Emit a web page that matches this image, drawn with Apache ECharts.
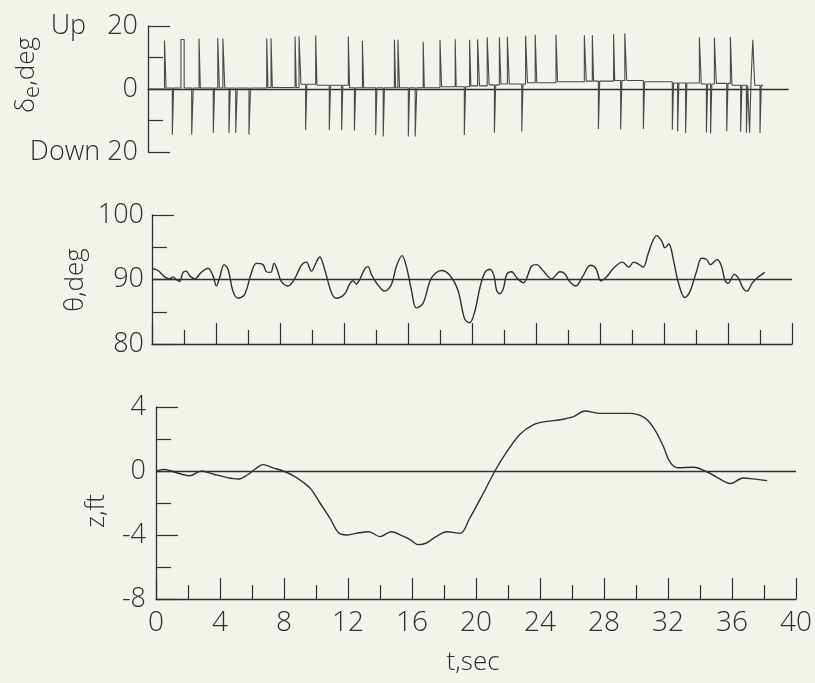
<!DOCTYPE html>
<html>
<head>
<meta charset="utf-8">
<title>elevator, pitch attitude and altitude time history</title>
<script src="https://cdn.jsdelivr.net/npm/echarts@6/dist/echarts.min.js"></script>
<style>
  html, body { margin: 0; padding: 0; background: #f3f2eb; }
  #chart { width: 815px; height: 683px; }
</style>
</head>
<body>
<div id="chart"></div>
<script>
// elevator pulses (deg): start time, width (sec), peak value
const upT = [1.03, 2.06, 3.19, 4.36, 4.68, 7.42, 7.69, 9.19, 9.44, 10.48, 12.52, 13.4, 15.4, 15.62,
  17.2, 18.25, 19.2, 20.1, 20.6, 21.2, 21.96, 22.46, 23.6, 24.2, 25.5, 27.27, 27.77, 29.1, 29.8,
  34.46, 35.4, 36.4, 37.8]
const upW = [0.1, 0.2, 0.08, 0.1, 0.12, 0.08, 0.08, 0.08, 0.12, 0.08, 0.08, 0.08, 0.08, 0.1,
  0.07, 0.1, 0.06, 0.08, 0.12, 0.12, 0.1, 0.12, 0.12, 0.1, 0.1, 0.12, 0.08, 0.07, 0.12,
  0.12, 0.12, 0.1, 0.12]
const upPeak = [15.4, 15.7, 16, 16.2, 16, 16, 16, 16.7, 16.7, 17, 16.7, 15.3, 15.6, 15.6,
  15, 15.6, 15.8, 15.6, 15.8, 16.4, 16.4, 16.6, 16.9, 17.2, 17.2, 17.1, 17.1, 17.4, 17.7,
  16.4, 16.3, 16.5, 15.6]
const downT = [1.52, 2.73, 4.08, 5.06, 5.48, 6.31, 9.85, 11.33, 12.1, 12.9, 14.23, 14.7, 16.27, 16.7,
  19.77, 21.65, 23.36, 28.15, 29.54, 30.96, 32.77, 33.1, 33.6, 34.9, 35.16, 36.17, 37.04, 37.4,
  37.6, 38.25]
const downW = [0.08, 0.1, 0.08, 0.08, 0.1, 0.1, 0.08, 0.08, 0.08, 0.08, 0.08, 0.08, 0.08, 0.1,
  0.08, 0.08, 0.08, 0.08, 0.08, 0.08, 0.08, 0.08, 0.08, 0.08, 0.08, 0.08, 0.08, 0.08,
  0.08, 0.08]
const downPeak = [-14.5, -14.5, -14, -14, -14, -14.5, -13, -13, -13, -13.2, -14.6, -15.1, -15.1, -15.1,
  -14.6, -13.9, -13.5, -12.7, -12.8, -12.7, -12.9, -13.4, -14, -13.8, -14.1, -13.3, -13.6, -13.9,
  -13.9, -14]
// trim level between pulses (deg)
const trimT = [0, 1.05, 7.45, 9.45, 10.5, 12.55, 15.65, 18.3, 20.15, 21.3, 22.0, 23.7, 25.55, 27.3,
  29.12, 30.97, 32.8, 34.5, 35.45, 36.45]
const trimV = [0, 0.3, 0.5, 1.5, 1.2, 0.4, 0.4, 0.7, 1.0, 1.3, 1.6, 2.0, 2.3, 2.5,
  2.7, 2.3, 1.9, 1.6, 1.8, 1.2]
const elevEnd = 38.45

// pitch attitude, deg
const thetaT = [0, 0.375, 0.79, 1.1, 1.31, 1.52, 1.73, 1.94, 2.15, 2.35, 2.67, 3.08, 3.5, 3.81, 4.02,
  4.23, 4.5, 4.75, 5.06, 5.375, 5.79, 6.21, 6.52, 6.94, 7.15, 7.42, 7.625, 7.83, 8.08, 8.5,
  8.92, 9.33, 9.65, 9.96, 10.27, 10.48, 10.79, 11.21, 11.52, 12.04, 12.35, 12.56, 12.77, 12.98, 13.29,
  13.5, 13.71, 14.02, 14.54, 14.96, 15.27, 15.625, 15.9, 16.21, 16.52, 16.94, 17.46, 18.08, 18.6, 19.125,
  19.54, 19.85, 20.19, 20.5, 20.81, 21.125, 21.375, 21.54, 21.75, 21.96, 22.17, 22.48, 22.79, 23.21, 23.73,
  24.04, 24.46, 24.98, 25.5, 25.8, 26.1, 26.5, 26.9, 27.4, 27.75, 28.05, 28.4, 28.9, 29.4, 29.8,
  30.1, 30.4, 30.7, 31.0, 31.3, 31.54, 31.85, 32.06, 32.3, 32.6, 32.9, 33.3, 33.6, 34.04, 34.35,
  34.66, 34.9, 35.33, 35.6, 35.8, 36.0, 36.4, 36.65, 36.96, 37.2, 37.5, 37.8, 38.3]
const thetaV = [91.7, 91.4, 90.4, 90.1, 90.4, 90.0, 89.7, 91.1, 91.3, 90.6, 90.1, 91.1, 91.75, 90.6, 89.0,
  90.3, 92.3, 91.6, 88.2, 87.1, 87.7, 91.0, 92.5, 92.3, 91.2, 91.1, 92.5, 91.5, 89.7, 89.0,
  90.15, 92.2, 92.7, 91.3, 92.7, 93.5, 91.6, 88.0, 87.1, 87.75, 89.3, 89.8, 89.3, 90.0, 91.6,
  92.0, 90.8, 89.5, 88.2, 89.2, 92.0, 93.7, 92.0, 88.4, 85.6, 86.3, 90.2, 91.4, 90.7, 88.3,
  83.9, 83.3, 85.2, 88.8, 91.1, 91.6, 90.6, 88.3, 87.8, 88.6, 90.8, 91.2, 90.3, 89.5, 92.1,
  92.3, 91.3, 90.1, 91.2, 90.9, 89.7, 89.0, 90.4, 92.2, 91.7, 89.8, 90.4, 91.9, 92.7, 91.9,
  92.7, 92.4, 91.9, 93.9, 96.0, 96.8, 96.0, 94.9, 95.5, 92.9, 89.5, 87.2, 88.0, 91.3, 93.3,
  93.1, 92.3, 93.1, 92.0, 90.0, 89.4, 90.8, 90.2, 88.6, 88.2, 89.4, 90.2, 91.1]

// altitude deviation, ft
const zT = [0, 0.5, 0.94, 1.6, 2.1, 2.85, 3.6, 4.4, 5.15, 5.7, 6.3, 6.7, 7.3, 7.95, 8.6, 9.2, 9.7,
  10.25, 10.9, 11.4, 11.9, 12.5, 13.3, 14.0, 14.7, 15.5, 15.9, 16.4, 16.9, 17.5, 18.2, 19.0, 19.6,
  20.5, 21.2, 21.9, 22.75, 23.6, 24.4, 25.25, 26.1, 26.8, 27.75, 28.8, 29.6, 30.5, 31.1, 31.7,
  32.1, 32.6, 33.6, 34.4, 35.0, 35.9, 36.7, 37.3, 38.2]
const zV = [0, 0.1, 0, -0.2, -0.3, 0, -0.2, -0.4, -0.5, -0.25, 0.2, 0.4, 0.2, 0, -0.3, -0.7, -1.15,
  -2.0, -3.0, -3.85, -4.0, -3.9, -3.8, -4.1, -3.8, -4.1, -4.3, -4.6, -4.5, -4.1, -3.8, -3.9, -2.97,
  -1.31, 0.03, 1.16, 2.3, 2.9, 3.1, 3.2, 3.4, 3.75, 3.6, 3.6, 3.6, 3.35, 2.7, 1.56,
  0.6, 0.2, 0.23, -0.03, -0.36, -0.78, -0.44, -0.49, -0.6]

const timeTicks = [0, 4, 8, 12, 16, 20, 24, 28, 32, 36, 40]

const ink = '#2f2f2f'
const font = 'Open Sans'
const weight = 300

// trim level at time t
function trimAt(t) {
  let v = trimV[0]
  for (let i = 0; i < trimT.length; i++) {
    if (trimT[i] <= t) v = trimV[i]
  }
  return v
}

// build the elevator trace as a stepped line from the pulse lists
let pulses = []
upT.forEach((t, i) => pulses.push([t, upW[i], upPeak[i]]))
downT.forEach((t, i) => pulses.push([t, downW[i], downPeak[i]]))
pulses.sort((a, b) => a[0] - b[0])
let elevData = [[0, trimAt(0)]]
pulses.forEach(p => {
  let t0 = p[0], t1 = p[0] + p[1]
  elevData.push([t0, trimAt(t0)], [t0, p[2]], [t1, p[2]], [t1, trimAt(t1)])
})
elevData.push([elevEnd, trimAt(elevEnd)])

const thetaData = thetaT.map((t, i) => [t, thetaV[i]])
const zData = zT.map((t, i) => [t, zV[i]])

let chart = echarts.init(document.getElementById('chart'))

let tickStyle = { color: ink, width: 1.2 }
let labelStyle = { fontSize: 27, color: ink, fontFamily: font, fontWeight: weight }

let option = {
  backgroundColor: '#f3f2eb',
  animation: false,
  textStyle: { fontFamily: font, color: ink },
  grid: [
    { left: 148, top: 26, width: 640, height: 126 },
    { left: 152, top: 215, width: 640, height: 129 },
    { left: 156, top: 407, width: 640, height: 192 },
  ],
  xAxis: [
    {
      type: 'value', gridIndex: 0, min: 0, max: 40,
      axisLine: { show: true, onZero: true, lineStyle: { color: ink, width: 1.3 } },
      axisTick: { show: false }, axisLabel: { show: false }, splitLine: { show: false },
    },
    {
      type: 'value', gridIndex: 1, min: 0, max: 40, interval: 4,
      axisLine: { show: true, onZero: false, lineStyle: { color: ink, width: 1.3 } },
      axisTick: { show: true, inside: true, length: 21, lineStyle: tickStyle },
      minorTick: { show: true, splitNumber: 2, length: 14, lineStyle: tickStyle },
      axisLabel: { show: false }, splitLine: { show: false },
    },
    {
      type: 'value', gridIndex: 2, min: 0, max: 40, interval: 4,
      axisLine: { show: true, onZero: false, lineStyle: { color: ink, width: 1.3 } },
      axisTick: { show: true, inside: true, length: 21, lineStyle: tickStyle },
      minorTick: { show: true, splitNumber: 2, length: 14, lineStyle: tickStyle },
      axisLabel: {
        show: true, fontSize: 28, color: ink, fontFamily: font, fontWeight: weight, margin: 10,
        formatter: v => timeTicks.indexOf(v) >= 0 ? String(v) : '',
      },
      splitLine: { show: false },
    },
  ],
  yAxis: [
    {
      type: 'value', gridIndex: 0, min: -20, max: 20, interval: 20,
      axisLine: { show: true, onZero: false, lineStyle: { color: ink, width: 1.3 } },
      axisTick: { show: true, inside: true, length: 22, lineStyle: tickStyle },
      minorTick: { show: true, splitNumber: 2, length: 15, lineStyle: tickStyle },
      axisLabel: Object.assign({}, labelStyle, {
        margin: 10,
        formatter: v => v === 20 ? 'Up   20' : v === -20 ? 'Down 20' : '0',
      }),
      splitLine: { show: false },
    },
    {
      type: 'value', gridIndex: 1, min: 80, max: 100, interval: 10,
      axisLine: { show: true, onZero: false, lineStyle: { color: ink, width: 1.3 } },
      axisTick: { show: true, inside: true, length: 22, lineStyle: tickStyle },
      minorTick: { show: true, splitNumber: 2, length: 15, lineStyle: tickStyle },
      axisLabel: Object.assign({}, labelStyle, { margin: 8 }),
      splitLine: { show: false },
    },
    {
      type: 'value', gridIndex: 2, min: -8, max: 4, interval: 4,
      axisLine: { show: true, onZero: false, lineStyle: { color: ink, width: 1.3 } },
      axisTick: { show: true, inside: true, length: 22, lineStyle: tickStyle },
      minorTick: { show: true, splitNumber: 2, length: 15, lineStyle: tickStyle },
      axisLabel: Object.assign({}, labelStyle, { margin: 10 }),
      splitLine: { show: false },
    },
  ],
  graphic: [
    {
      type: 'text', x: 27, y: 75, rotation: Math.PI / 2,
      style: {
        text: '{a|δ}{b|e}{a|,deg}', textAlign: 'center', textVerticalAlign: 'middle',
        rich: {
          a: { fontSize: 26, fontFamily: font, fontWeight: weight, fill: ink, lineHeight: 34 },
          b: { fontSize: 22, fontFamily: font, fontWeight: weight, fill: ink, verticalAlign: 'bottom', lineHeight: 34 },
        },
      },
    },
    {
      type: 'text', x: 76, y: 280, rotation: Math.PI / 2,
      style: { text: 'θ,deg', fontSize: 26, fontFamily: font, fontWeight: weight, fill: ink, textAlign: 'center', textVerticalAlign: 'middle' },
    },
    {
      type: 'text', x: 97, y: 511, rotation: Math.PI / 2,
      style: { text: 'z,ft', fontSize: 26, fontFamily: font, fontWeight: weight, fill: ink, textAlign: 'center', textVerticalAlign: 'middle' },
    },
    {
      type: 'text', x: 473, y: 663,
      style: { text: 't,sec', fontSize: 26, fontFamily: font, fontWeight: weight, fill: ink, textAlign: 'center', textVerticalAlign: 'middle' },
    },
  ],
  series: [
    {
      name: 'elevator', type: 'line', xAxisIndex: 0, yAxisIndex: 0,
      data: elevData, showSymbol: false, silent: true,
      lineStyle: { color: '#4a4a4a', width: 1.1 },
    },
    {
      name: 'theta', type: 'line', xAxisIndex: 1, yAxisIndex: 1,
      data: thetaData, showSymbol: false, smooth: 0.35, silent: true,
      lineStyle: { color: ink, width: 1.4 },
      markLine: {
        silent: true, symbol: ['none', 'none'], label: { show: false },
        lineStyle: { color: ink, width: 1.3, type: 'solid' },
        data: [{ yAxis: 90 }],
      },
    },
    {
      name: 'z', type: 'line', xAxisIndex: 2, yAxisIndex: 2,
      data: zData, showSymbol: false, smooth: 0.35, silent: true,
      lineStyle: { color: ink, width: 1.4 },
      markLine: {
        silent: true, symbol: ['none', 'none'], label: { show: false },
        lineStyle: { color: ink, width: 1.3, type: 'solid' },
        data: [{ yAxis: 0 }],
      },
    },
  ],
}

chart.setOption(option)
</script>
</body>
</html>
